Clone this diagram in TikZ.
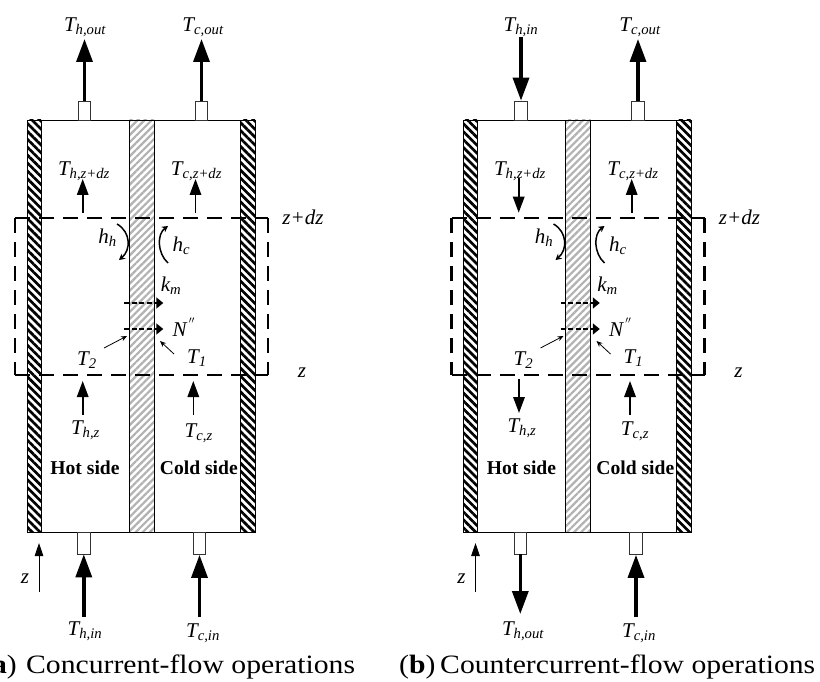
\documentclass[tikz,border=0pt]{standalone}
\usepackage{fontspec}
\setmainfont{Liberation Serif}
\newfontfamily\capfont[FakeStretch=1.12]{Liberation Serif}
\usetikzlibrary{arrows.meta,patterns.meta}
\tikzset{
 x=1pt,y=-1pt,
 lab/.style={font=\fontsize{21}{21}\selectfont\itshape,inner sep=0pt},
 side/.style={font=\fontsize{19.6}{20}\selectfont\bfseries,inner sep=0pt},
 caplab/.style={font=\capfont\fontsize{26.5}{28}\selectfont,inner sep=0pt,anchor=base west},
 wall/.style={draw=black,line width=.8pt,pattern={Lines[angle=-45,distance=5.6pt,line width=2.7pt]},pattern color=black},
 memb/.style={draw=black,line width=.8pt,pattern={Lines[angle=45,distance=5pt,line width=2.2pt]},pattern color=black!30},
 chan/.style={draw=black,line width=.8pt,fill=white},
 port/.style={draw=black!80,line width=.7pt,fill=white},
 bigar/.style={line width=3.4pt,-{Triangle[length=23pt,width=16pt]}},
 midar/.style={line width=1.6pt,-{Triangle[length=16pt,width=11.5pt]}},
 dashar/.style={line width=1.4pt,dash pattern=on 5pt off 2.6pt,-{Triangle[length=7pt,width=11pt]}},
 thinar/.style={line width=.8pt,-{Stealth[length=6pt,width=5pt]}},
 curvar/.style={line width=1.5pt,-{Stealth[length=6pt,width=6.5pt]}},
 zar/.style={line width=.8pt,-{Triangle[length=13pt,width=8.5pt]}},
 box/.style={line width=1.9pt,dash pattern=on 15pt off 9pt},
 boxv/.style={line width=2.3pt,dash pattern=on 15pt off 9pt},
}
% #1 x-offset, #2 prefix
\newcommand{\panel}[2]{%
\begin{scope}[xshift=#1pt,name prefix=#2]
 \path[chan] (41,120) rectangle (129,532);
 \path[chan] (154,120) rectangle (240,532);
 \path[wall] (27,120) rectangle (41,532);
 \path[wall] (240,120) rectangle (255,532);
 \path[memb] (129,120) rectangle (154,532);
 \node[port,minimum width=12.5pt,minimum height=19pt,inner sep=0pt] (pht) at (84.5,110.5) {};
 \node[port,minimum width=12.5pt,minimum height=19pt,inner sep=0pt] (pct) at (201.5,110.5) {};
 \node[port,minimum width=12.5pt,minimum height=22pt,inner sep=0pt] (phb) at (83.8,543) {};
 \node[port,minimum width=12.5pt,minimum height=22pt,inner sep=0pt] (pcb) at (199.5,543.5) {};
 \coordinate (boxa) at (15,218); \coordinate (boxb) at (268,218);
 \coordinate (boxc) at (268,375); \coordinate (boxd) at (15,375);
 \draw[box] (boxa) -- (boxb);
 \draw[box] (boxd) -- (boxc);
 \draw[boxv] (boxa) -- (boxd);
 \draw[boxv] (boxb) -- (boxc);
 \node[lab] (z2) at (303,217) {z+dz};
 \node[lab] (z1) at (302,373) {z};
 \node[lab] (hh) at (107.5,238) {h\textsubscript{h}};
 \node[lab] (hc) at (181.5,246) {h\textsubscript{c}};
 \node[lab] (km) at (171,286) {k\textsubscript{m}};
 \node[lab] (nn) at (184,327) {N\textsuperscript{\,$''$}};
 \node[lab] (t2) at (87,360) {T\textsubscript{2}};
 \node[lab] (t1) at (197,358) {T\textsubscript{1}};
 \coordinate (km0) at (124,303); \coordinate (km1) at (163.3,303);
 \coordinate (nn0) at (124,329); \coordinate (nn1) at (163.3,329);
 \draw[dashar] (km0) -- (km1);
 \draw[dashar] (nn0) -- (nn1);
 \coordinate (t20) at (104,348); \coordinate (t21) at (127,336);
 \coordinate (t10) at (174,354); \coordinate (t11) at (160,341);
 \draw[thinar] (t20) -- (t21);
 \draw[thinar] (t10) -- (t11);
 \coordinate (hh0) at (117,224); \coordinate (hh1) at (119,260);
 \coordinate (hc0) at (168,263); \coordinate (hc1) at (168,226);
 \draw[curvar] (hh0) .. controls (131,232) and (131,250) .. (hh1);
 \draw[curvar] (hc0) .. controls (157,253) and (157,234) .. (hc1);
 \node[side] (hot) at (85,468) {Hot side};
 \node[side] (cold) at (198.8,468) {Cold side};
\end{scope}}
\begin{document}
\begin{tikzpicture}
\fill[white] (0,0) rectangle (820,682);
\begin{scope}
\clip (0,0) rectangle (820,682);
\panel{0}{a}
\panel{436.5}{b}
\begin{scope}[name prefix=a]
 \node[lab] (ths) at (85,27) {T\textsubscript{h,out}};
 \node[lab] (tcs) at (203,27) {T\textsubscript{c,out}};
 \coordinate (e0) at (84.5,39); \coordinate (e1) at (201.5,39);
 \draw[bigar] (pht.north) -- (e0);
 \draw[bigar] (pct.north) -- (e1);
 \node[lab] (thm) at (84,171) {T\textsubscript{h,z+dz}};
 \node[lab] (tcm) at (196.5,171) {T\textsubscript{c,z+dz}};
 \coordinate (a0) at (82.7,213); \coordinate (a00) at (82.7,179);
 \coordinate (a1) at (195.5,213); \coordinate (a11) at (195.5,179);
 \draw[midar] (a0) -- (a00);
 \draw[midar] (a1) -- (a11);
 \coordinate (b0) at (82.7,415); \coordinate (b00) at (82.7,381);
 \coordinate (b1) at (193.3,415); \coordinate (b11) at (193.3,381);
 \draw[midar] (b0) -- (b00);
 \draw[midar] (b1) -- (b11);
 \node[lab] (thl) at (85.5,430) {T\textsubscript{h,z}};
 \node[lab] (tcl) at (198.7,433) {T\textsubscript{c,z}};
 \coordinate (c0) at (83.8,617); \coordinate (c1) at (199.5,617);
 \draw[bigar] (c0) -- (phb.south);
 \draw[bigar] (c1) -- (pcb.south);
 \node[lab] (thi) at (85,631) {T\textsubscript{h,in}};
 \node[lab] (tci) at (203,633) {T\textsubscript{c,in}};
 \coordinate (za) at (39,592); \coordinate (zb) at (39,543);
 \draw[zar] (za) -- (zb);
 \node[lab] (zz) at (25,579) {z};
\end{scope}
\begin{scope}[name prefix=b]
 \node[lab] (ths) at (521,27) {T\textsubscript{h,in}};
 \node[lab] (tcs) at (640,27) {T\textsubscript{c,out}};
 \coordinate (d0) at (521,37); \coordinate (e1) at (638,39);
 \draw[bigar] (d0) -- (pht.north);
 \draw[bigar] (pct.north) -- (e1);
 \node[lab] (thm) at (520,171) {T\textsubscript{h,z+dz}};
 \node[lab] (tcm) at (633,171) {T\textsubscript{c,z+dz}};
 \coordinate (a0) at (518.7,178); \coordinate (a00) at (518.7,212.7);
 \coordinate (a1) at (631.7,213); \coordinate (a11) at (631.7,179);
 \draw[midar] (a0) -- (a00);
 \draw[midar] (a1) -- (a11);
 \coordinate (b0) at (519,379); \coordinate (b00) at (519,413);
 \coordinate (b1) at (630,415); \coordinate (b11) at (630,381);
 \draw[midar] (b0) -- (b00);
 \draw[midar] (b1) -- (b11);
 \node[lab] (thl) at (522,428) {T\textsubscript{h,z}};
 \node[lab] (tcl) at (635,431) {T\textsubscript{c,z}};
 \coordinate (c0) at (520.3,614); \coordinate (c1) at (636,617);
 \draw[bigar] (phb.south) -- (c0);
 \draw[bigar] (c1) -- (pcb.south);
 \node[lab] (thi) at (523,631) {T\textsubscript{h,out}};
 \node[lab] (tci) at (639,633) {T\textsubscript{c,in}};
 \coordinate (za) at (475.5,592); \coordinate (zb) at (475.5,543);
 \draw[zar] (za) -- (zb);
 \node[lab] (zz) at (461.5,579) {z};
\end{scope}
\node[caplab] (taga) at (-18,673) {(\textbf{a})};
\node[caplab] (capa) at (26,673) {Concurrent-flow operations};
\node[caplab] (tagb) at (399,673) {(\textbf{b})};
\node[caplab] (capb) at (440,673) {Countercurrent-flow operations};
\end{scope}
\useasboundingbox (0,0) rectangle (820,682);
\end{tikzpicture}
\end{document}
